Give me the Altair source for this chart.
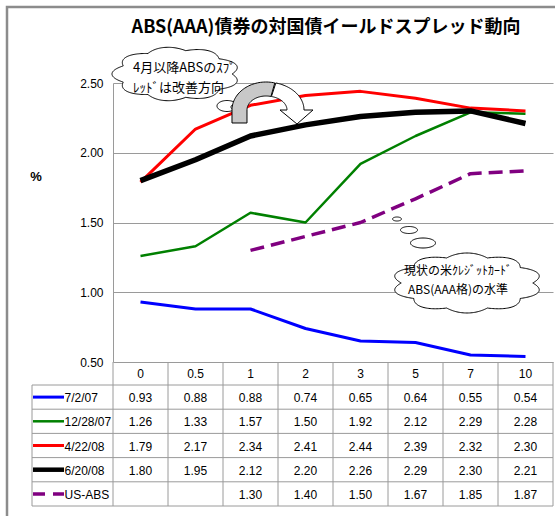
import numpy as np
import pandas as pd
import altair as alt

# ---- data -------------------------------------------------------------
maturities = ["0", "0.5", "1", "2", "3", "5", "7", "10"]
series_names = ["7/2/07", "12/28/07", "4/22/08", "6/20/08", "US-ABS"]
spread_2007_07_02 = [0.93, 0.88, 0.88, 0.74, 0.65, 0.64, 0.55, 0.54]
spread_2007_12_28 = [1.26, 1.33, 1.57, 1.50, 1.92, 2.12, 2.29, 2.28]
spread_2008_04_22 = [1.79, 2.17, 2.34, 2.41, 2.44, 2.39, 2.32, 2.30]
spread_2008_06_20 = [1.80, 1.95, 2.12, 2.20, 2.26, 2.29, 2.30, 2.21]
spread_us_abs = [None, None, 1.30, 1.40, 1.50, 1.67, 1.85, 1.87]
series_values = [spread_2007_07_02, spread_2007_12_28, spread_2008_04_22,
                 spread_2008_06_20, spread_us_abs]
y_ticks = [0.5, 1.0, 1.5, 2.0, 2.5]

title_text = "ABS(AAA)債券の対国債イールドスプレッド動向"
note_improve = ["4月以降ABSのｽﾌﾟ", "ﾚｯﾄﾞは改善方向"]
note_us_level = ["現状の米ｸﾚｼﾞｯﾄｶｰﾄﾞ", "ABS(AAA格)の水準"]

# ---- styles -----------------------------------------------------------
series_colors = ["#0000FF", "#008000", "#FF0000", "#000000", "#800080"]
series_widths = [3, 2.5, 3, 5.5, 3.5]
series_dashes = [None, None, None, None, [14, 7]]
GRID = "#9a9a9a"
FONT = "Liberation Sans Narrow, Liberation Sans, Arial, sans-serif"
JP_FONT = "Liberation Sans Narrow, Noto Sans CJK JP, sans-serif"
NUM_SIZE = 12

# ---- layout (page pixels) ---------------------------------------------
X0, Y0 = 113, 83          # plot-area origin on the page
W, H = 440, 279           # plot-area size
PAGE_W, PAGE_H = 555, 516
ROW_LINES = [385, 409.2, 433.4, 457.6, 481.8, 506]
HEADER_Y = 373.5
LEGEND_LEFT = 32


def px(x):
    return x - X0


def py(y):
    return y - Y0


one = pd.DataFrame({"k": [0]})


def xenc(band_pos=0.5):
    return alt.X("cat:N", sort=maturities,
                 scale=alt.Scale(type="band", domain=maturities,
                                 paddingInner=0, paddingOuter=0),
                 axis=None, bandPosition=band_pos)


def yenc():
    return alt.Y("v:Q",
                 scale=alt.Scale(domain=[0.5, 2.5], nice=False, zero=False),
                 axis=alt.Axis(values=y_ticks, format=".2f", title=None,
                               grid=True, gridColor=GRID, gridWidth=1,
                               domainColor=GRID, domainWidth=1, ticks=False,
                               labelPadding=10, labelFont=FONT,
                               labelFontSize=NUM_SIZE, labelColor="black"))


def series_frame(vals):
    rows = [{"cat": c, "v": v} for c, v in zip(maturities, vals) if v is not None]
    return pd.DataFrame(rows)


def shape_layer(xs, ys, fill, stroke="black", sw=1.0):
    xs = np.asarray(xs, float)
    ys = np.asarray(ys, float)
    cx = (xs.min() + xs.max()) / 2
    cy = (ys.min() + ys.max()) / 2
    s = max(xs.max() - xs.min(), ys.max() - ys.min()) / 2
    pts = [f"{(x - cx) / s:.4f},{(y - cy) / s:.4f}" for x, y in zip(xs, ys)]
    path = "M" + " L".join(pts) + " Z"
    return alt.Chart(one).mark_point(
        shape=path, size=(2 * s) ** 2, filled=True, fill=fill,
        stroke=stroke, strokeWidth=sw, opacity=1, fillOpacity=1,
        strokeOpacity=1,
    ).encode(x=alt.value(px(cx)), y=alt.value(py(cy)))


def cloud(cx, cy, w, h, lobes, k=0.14):
    t = np.linspace(0, 2 * np.pi, 361)
    bump = 1 + k * np.abs(np.sin(lobes * t / 2))
    a, b = w / 2 / (1 + k), h / 2 / (1 + k)
    return cx + a * np.cos(t) * bump, cy + b * np.sin(t) * bump


def ellipse(cx, cy, w, h):
    t = np.linspace(0, 2 * np.pi, 73)
    return cx + w / 2 * np.cos(t), cy + h / 2 * np.sin(t)


def arc(cx, cy, rx, ry, a0, a1, n=40):
    th = np.radians(np.linspace(a0, a1, n))
    return list(zip(cx + rx * np.cos(th), cy - ry * np.sin(th)))


def text_layer(txt, x, y, size=13, bold=False, align="center", font=FONT):
    return alt.Chart(one).mark_text(
        text=txt, font=font, fontSize=size,
        fontWeight="bold" if bold else "normal", align=align,
        baseline="middle", color="black",
    ).encode(x=alt.value(px(x)), y=alt.value(py(y)))


def hrule(x1, x2, y, color=GRID, width=1.0, dash=None):
    kw = dict(color=color, strokeWidth=width)
    if dash:
        kw["strokeDash"] = dash
    return alt.Chart(one).mark_rule(**kw).encode(
        x=alt.value(px(x1)), x2=alt.value(px(x2)), y=alt.value(py(y)))


layers = []

# outer frame
layers.append(alt.Chart(one).mark_rect(
    fillOpacity=0, stroke="#8c8c8c", strokeWidth=2.5).encode(
    x=alt.value(px(7)), x2=alt.value(px(620)),
    y=alt.value(py(7)), y2=alt.value(py(620))))

# series lines
for name, vals, col, sw, dash in zip(series_names, series_values,
                                     series_colors, series_widths,
                                     series_dashes):
    kw = dict(color=col, strokeWidth=sw, strokeJoin="round")
    if dash:
        kw["strokeDash"] = dash
    layers.append(alt.Chart(series_frame(vals)).mark_line(**kw).encode(
        x=xenc(), y=yenc()))

# ---- data table under the plot -----------------------------------------
cat_df = pd.DataFrame({"cat": maturities})
# column separators
layers.append(alt.Chart(cat_df).mark_rule(color=GRID, strokeWidth=1).encode(
    x=xenc(0), y=alt.value(py(362)), y2=alt.value(py(ROW_LINES[-1]))))
layers.append(alt.Chart(one).mark_rule(color=GRID, strokeWidth=1).encode(
    x=alt.value(W), y=alt.value(py(362)), y2=alt.value(py(ROW_LINES[-1]))))
# legend column edge
layers.append(alt.Chart(one).mark_rule(color=GRID, strokeWidth=1).encode(
    x=alt.value(px(LEGEND_LEFT)), y=alt.value(py(ROW_LINES[0])),
    y2=alt.value(py(ROW_LINES[-1]))))
# row separators
for yl in ROW_LINES:
    layers.append(hrule(LEGEND_LEFT, X0 + W, yl))
# header
layers.append(alt.Chart(cat_df).mark_text(
    font=FONT, fontSize=NUM_SIZE, baseline="middle", color="black").encode(
    x=xenc(), y=alt.value(py(HEADER_Y)), text="cat:N"))
# rows: legend sample, name, values
for i, (name, vals, col, sw, dash) in enumerate(
        zip(series_names, series_values, series_colors, series_widths,
            series_dashes)):
    yc = (ROW_LINES[i] + ROW_LINES[i + 1]) / 2
    layers.append(hrule(LEGEND_LEFT + 1, 64, yc, color=col,
                        width=min(sw, 4.5), dash=[12, 8] if dash else None))
    layers.append(text_layer(name, 64.5, yc + 1, size=NUM_SIZE, align="left"))
    layers.append(alt.Chart(series_frame(vals)).mark_text(
        font=FONT, fontSize=NUM_SIZE, baseline="middle", color="black").encode(
        x=xenc(), y=alt.value(py(yc + 1)),
        text=alt.Text("v:Q", format=".2f")))

# ---- title and axis caption ---------------------------------------------
layers.append(text_layer(title_text, 326, 28, size=18, bold=True,
                         font=JP_FONT))
layers.append(text_layer("%", 36, 177, size=13, bold=True))

# ---- callout: spreads improving since April -------------------------------
cx1, cy1 = cloud(176, 74, 128, 54, 9)
layers.append(shape_layer(cx1, cy1, "white"))
ex, ey = ellipse(227, 106, 20, 11)
layers.append(shape_layer(ex, ey, "white"))
ex, ey = ellipse(237, 107, 12, 7)
layers.append(shape_layer(ex, ey, "white"))
ex, ey = ellipse(237, 107, 6, 3.5)
layers.append(shape_layer(ex, ey, "white"))
layers.append(text_layer(note_improve[0], 133, 68, size=13, align="left",
                         font=JP_FONT))
layers.append(text_layer(note_improve[1], 133, 88, size=13, align="left",
                         font=JP_FONT))

# curved arrow: white head side first, grey ribbon on top
white_part = (arc(266, 110, 38, 28, 75, 0)
              + [(313, 110), (297, 124), (280, 110)]
              + arc(266, 110, 21, 14, 0, 75))
gray_part = ([(232, 123), (232, 110)] + arc(266, 110, 34, 28, 180, 75)
             + arc(266, 110, 19, 14, 75, 180) + [(247, 110), (247, 123)])
layers.append(shape_layer([p[0] for p in white_part],
                          [p[1] for p in white_part], "white"))
layers.append(shape_layer([p[0] for p in gray_part],
                          [p[1] for p in gray_part], "#c8c8c8"))

# ---- callout: current US credit-card ABS level ----------------------------
for (bx, by, bw, bh) in [(397, 219, 9, 4), (409, 230, 17, 7), (423, 243, 25, 10)]:
    ex, ey = ellipse(bx, by, bw, bh)
    layers.append(shape_layer(ex, ey, "white"))
cx2, cy2 = cloud(467, 283, 150, 60, 10)
layers.append(shape_layer(cx2, cy2, "white"))
layers.append(text_layer(note_us_level[0], 458, 271, size=12, font=JP_FONT))
layers.append(text_layer(note_us_level[1], 458, 290, size=12, font=JP_FONT))

chart = alt.layer(*layers).properties(
    width=W, height=H,
    autosize=alt.AutoSizeParams(type="none"),
    padding={"left": X0, "top": Y0, "right": PAGE_W - X0 - W,
             "bottom": PAGE_H - Y0 - H},
    background="white",
).configure_view(stroke="transparent")

chart.save("out.html", embed_options={"renderer": "svg", "actions": False})
